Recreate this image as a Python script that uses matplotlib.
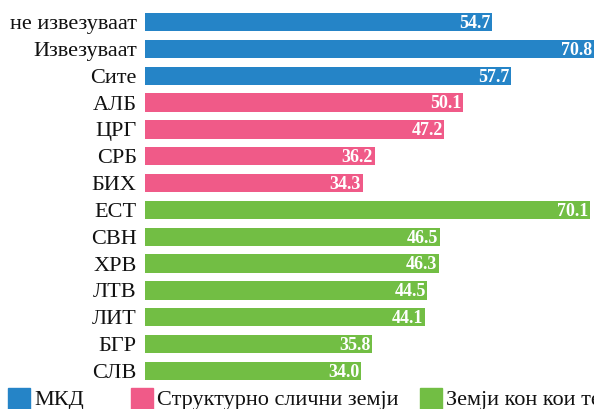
import matplotlib
matplotlib.use("Agg")
import matplotlib.pyplot as plt
from matplotlib.patches import Rectangle

categories = ["не извезуваат", "Извезуваат", "Сите", "АЛБ", "ЦРГ", "СРБ", "БИХ",
              "ЕСТ", "СВН", "ХРВ", "ЛТВ", "ЛИТ", "БГР", "СЛВ"]
values = [54.7, 70.8, 57.7, 50.1, 47.2, 36.2, 34.3,
          70.1, 46.5, 46.3, 44.5, 44.1, 35.8, 34.0]
groups = ["МКД"] * 3 + ["Структурно слични земји"] * 4 + ["Земји кон кои тежнееме"] * 7
group_names = ["МКД", "Структурно слични земји", "Земји кон кои тежнееме"]
group_colors = {"МКД": "#2584C7",
                "Структурно слични земји": "#F05A88",
                "Земји кон кои тежнееме": "#72BE44"}

plt.rcParams['font.family'] = ['Liberation Serif', 'DejaVu Serif']

W, H = 594, 409
fig = plt.figure(figsize=(W / 100, H / 100), dpi=100)

left_px, right_px = 145, 594
top_px, bottom_px = 8.6, 384.4
ax = fig.add_axes([left_px / W, 1 - bottom_px / H,
                   (right_px - left_px) / W, (bottom_px - top_px) / H])

ypos = list(range(len(categories)))
colors = [group_colors[g] for g in groups]
bars = ax.barh(ypos, values, height=0.68, color=colors)
ax.set_ylim(len(categories) - 0.5, -0.5)
ax.set_xlim(0, 70.8)
ax.set_yticks(ypos)
ax.set_yticklabels(categories, fontsize=16, color="#111111")
ax.tick_params(axis='y', length=0, pad=6)
ax.set_xticks([])
for s in ax.spines.values():
    s.set_visible(False)

for b, v in zip(bars, values):
    ax.annotate(f"{v:.1f}", xy=(b.get_width(), b.get_y() + b.get_height() / 2),
                xytext=(-1, -1), textcoords="offset points",
                ha="right", va="center", color="white", fontsize=13,
                fontweight="bold")

# legend (manual, partially cut off at bottom as in reference)
leg_x = [8, 131, 420]
for name, x in zip(group_names, leg_x):
    fig.add_artist(Rectangle((x / W, 1 - 409 / H), 22 / W, 21 / H,
                             transform=fig.transFigure, color=group_colors[name],
                             clip_on=False))
    fig.text((x + 26) / W, 1 - 400 / H, name, fontsize=16, color="#111111",
             ha="left", va="center")

fig.savefig("out.png", dpi=100)
